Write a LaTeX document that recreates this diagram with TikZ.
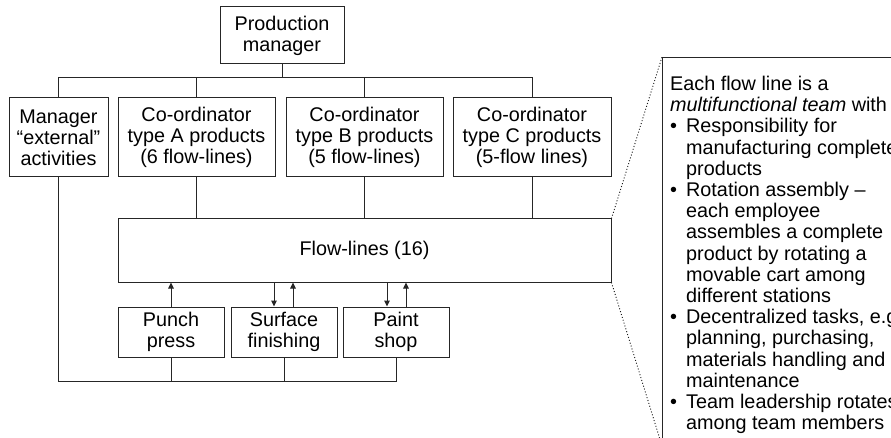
\documentclass[tikz,border=0pt]{standalone}
\usepackage{fontspec}
\setmainfont{Liberation Sans}
\usetikzlibrary{arrows.meta}
\newcommand\diafont{\fontsize{19.8}{21.2}\selectfont}
\newcommand\bul{\makebox[16pt][l]{\textbullet}}
\newcommand\ind{\hspace*{16pt}}
\tikzset{
  box/.style={draw=black!85, line width=1pt, inner sep=0pt, align=center, font=\diafont},
  link/.style={draw=black!85, line width=1pt},
  arr/.style={link, -{Triangle[length=6pt,width=5.5pt]}},
  dotline/.style={draw=black!90, line width=0.9pt, dash pattern=on 1pt off 2pt},
}
\begin{document}
\begin{tikzpicture}[x=1pt, y=-1pt]
\useasboundingbox (0,0) rectangle (891,438);
\clip (0,0) rectangle (891,438);

% management levels
\node[box, minimum width=124pt, minimum height=57pt] (pm) at (282,35.5) {Production\\manager};
\node[box, minimum width=99pt, minimum height=79pt] (mgr) at (58.5,137.5) {Manager\\“external”\\activities};
\node[box, minimum width=157pt, minimum height=79pt] (coa) at (196.5,137.5) {Co-ordinator\\type A products\\(6 flow-lines)};
\node[box, minimum width=157pt, minimum height=79pt] (cob) at (364.5,137.5) {Co-ordinator\\type B products\\(5 flow-lines)};
\node[box, minimum width=158pt, minimum height=79pt] (coc) at (532,137.5) {Co-ordinator\\type C products\\(5-flow lines)};

% flow lines and support departments
\node[box, minimum width=493pt, minimum height=63pt] (flow) at (364.5,250.5) {Flow-lines (16)};
\node[box, minimum width=106pt, minimum height=50pt] (punch) at (171,332) {Punch\\press};
\node[box, minimum width=106pt, minimum height=50pt] (surf) at (284,332) {Surface\\finishing};
\node[box, minimum width=106pt, minimum height=50pt] (paint) at (396,332) {Paint\\shop};

% bus levels
\coordinate (busT) at (0,78);
\coordinate (busB) at (0,381);

% reporting lines
\draw[link] (pm.south) -- (pm.south |- busT);
\draw[link] (mgr.north) -- (mgr.north |- busT) -| (coc.north);
\draw[link] (coa.north) -- (coa.north |- busT);
\draw[link] (cob.north) -- (cob.north |- busT);
\draw[link] (coa.south) -- (coa.south |- flow.north);
\draw[link] (cob.south) -- (cob.south |- flow.north);
\draw[link] (coc.south) -- (coc.south |- flow.north);
\draw[link] (mgr.south) -- (mgr.south |- busB) -| (paint.south);
\draw[link] (punch.south) -- (punch.south |- busB);
\draw[link] (surf.south) -- (surf.south |- busB);

% material flows
\draw[arr] (punch.north) -- (punch.north |- flow.south);
\draw[arr] ([xshift=-10pt]surf.north |- flow.south) -- ([xshift=-10pt]surf.north);
\draw[arr] ([xshift=9pt]surf.north) -- ([xshift=9pt]surf.north |- flow.south);
\draw[arr] ([xshift=-9pt]paint.north |- flow.south) -- ([xshift=-9pt]paint.north);
\draw[arr] ([xshift=10pt]paint.north) -- ([xshift=10pt]paint.north |- flow.south);

% callout describing a flow line
\node[draw=black!85, line width=1pt, inner sep=0pt, minimum width=420pt, minimum height=388pt, anchor=north west] (callout) at (662,57) {};
\node[inner sep=0pt, align=left, anchor=north west, font=\diafont] (calltext) at (670,76)
  {Each flow line is a\\
   \textit{multifunctional team} with\\
   \bul Responsibility for\\
   \ind manufacturing complete\\
   \ind products\\
   \bul Rotation assembly –\\
   \ind each employee\\
   \ind assembles a complete\\
   \ind product by rotating a\\
   \ind movable cart among\\
   \ind different stations\\
   \bul Decentralized tasks, e.g.,\\
   \ind planning, purchasing,\\
   \ind materials handling and\\
   \ind maintenance\\
   \bul Team leadership rotates\\
   \ind among team members};
\draw[dotline] (flow.north east) -- (callout.north west);
\draw[dotline] (flow.south east) -- (callout.south west);
\end{tikzpicture}
\end{document}
